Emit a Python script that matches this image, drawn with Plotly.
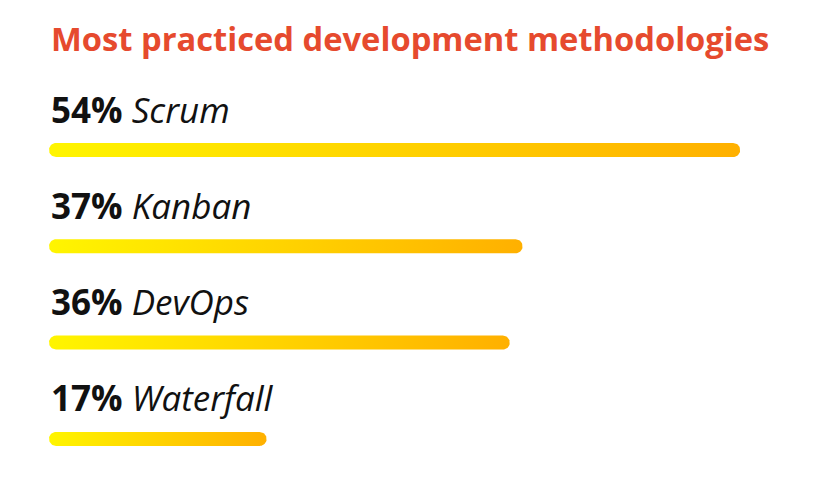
import numpy as np
import plotly.graph_objects as go

methods = ["Scrum", "Kanban", "DevOps", "Waterfall"]
shares = [54, 37, 36, 17]

TITLE = "Most practiced development methodologies"
TITLE_COLOR = "#e64a2e"
GRAD = [[0, "#fff500"], [1, "#ffb000"]]
W, H = 835, 477

# axis layout: x in percent, y in row index
X0_PX, PX_PER_PCT = 49, 12.8
Y0_PX, PX_PER_ROW = 150, 96.3
xr = [-X0_PX / PX_PER_PCT, (W - X0_PX) / PX_PER_PCT]
yr = [(H - Y0_PX) / PX_PER_ROW, -Y0_PX / PX_PER_ROW]

BAR_H_PX = 14


def stadium(v, i):
    """rounded bar outline from 0 to v at row i, in data units"""
    rx = BAR_H_PX / 2 / PX_PER_PCT
    hy = BAR_H_PX / 2 / PX_PER_ROW
    t = np.linspace(-np.pi / 2, np.pi / 2, 24)
    xs = np.concatenate([v - rx + rx * np.cos(t), rx - rx * np.cos(t[::-1])])
    ys = np.concatenate([i + hy * np.sin(t), i + hy * np.sin(t[::-1])])
    return list(xs) + [xs[0]], list(ys) + [ys[0]]


fig = go.Figure()
for i, (m, v) in enumerate(zip(methods, shares)):
    xs, ys = stadium(v, i)
    fig.add_trace(go.Scatter(
        x=xs, y=ys, mode="lines", fill="toself", line=dict(width=0),
        fillgradient=dict(type="horizontal", colorscale=GRAD),
        hoverinfo="skip", showlegend=False,
    ))
    fig.add_annotation(
        x=0, y=i, xref="x", yref="y", xanchor="left", yanchor="middle",
        yshift=41, showarrow=False,
        text=f"<b>{v}%</b> <i>{m}</i>",
        font=dict(family="Open Sans", size=35, color="#111111"),
    )

fig.add_annotation(
    x=X0_PX / W, y=1 - 39 / H, xref="paper", yref="paper",
    xanchor="left", yanchor="middle", showarrow=False,
    text=f"<b>{TITLE}</b>",
    font=dict(family="Open Sans", size=32.7, color=TITLE_COLOR),
)

fig.update_layout(
    width=W, height=H, margin=dict(l=0, r=0, t=0, b=0),
    paper_bgcolor="white", plot_bgcolor="white",
    xaxis=dict(range=xr, visible=False, fixedrange=True),
    yaxis=dict(range=yr, visible=False, fixedrange=True),
)
fig.write_html("out.html", config={"displayModeBar": False},
               post_script="document.body.style.margin='0';")
